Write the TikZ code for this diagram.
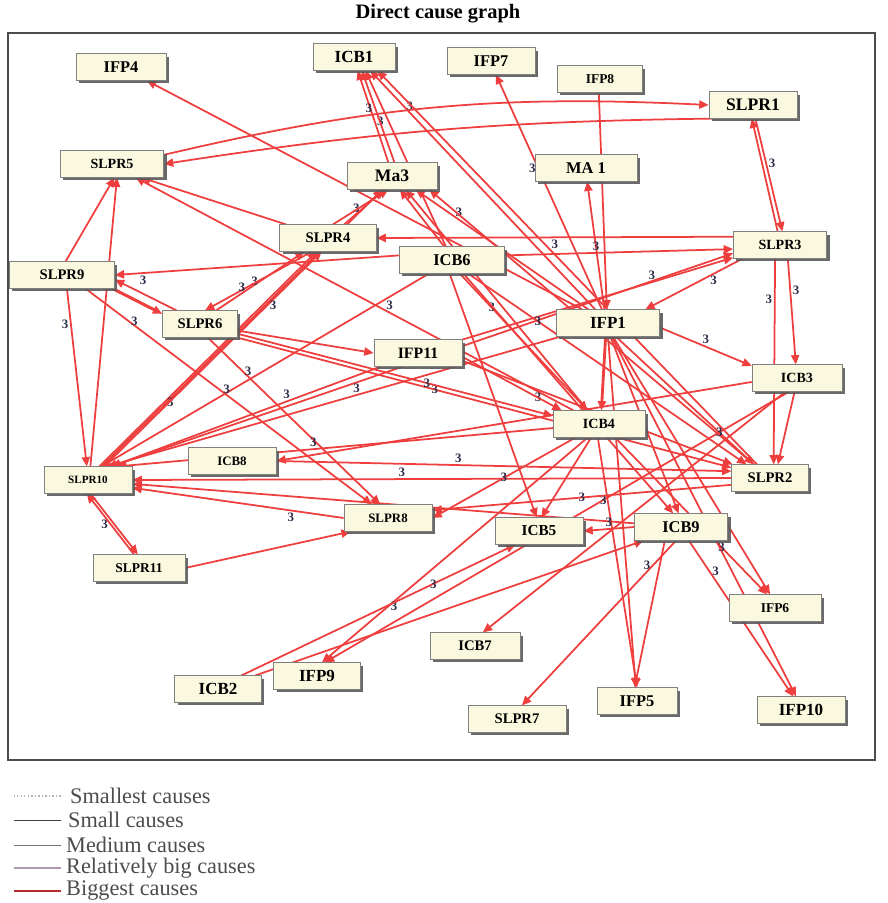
\documentclass[tikz,border=0pt]{standalone}
\usepackage{fontspec}
\setmainfont{Liberation Serif}
\usetikzlibrary{arrows.meta,shadows}

\definecolor{causered}{RGB}{238,62,62}
\definecolor{boxfill}{RGB}{250,249,224}
\definecolor{numcol}{RGB}{45,45,75}
\newcommand\boxfont[1]{\bfseries\fontsize{#1}{#1}\selectfont}
\pgfdeclarelayer{edges}
\pgfsetlayers{edges,main}

\tikzset{
  box/.style={draw=black!50, fill=boxfill, font=\boxfont{#1}, minimum width=2.7cm,
    minimum height=0.8cm, inner sep=2pt,
    drop shadow={shadow xshift=2.5pt, shadow yshift=-2.5pt, fill=black!65, opacity=.9}},
  box/.default=12.5,
  cause/.style={draw=causered, line width=1.5pt, -{Triangle[length=8pt,width=7pt]}},
  lbl/.style={font=\bfseries\fontsize{11}{11}\selectfont, text=numcol, inner sep=1.5pt},
  legend/.style={anchor=west, inner sep=0pt, text=black!70, font=\fontsize{19}{19}\selectfont}
}

\begin{document}
\begin{tikzpicture}[x=0.03cm, y=-0.03cm]
\useasboundingbox (0,0) rectangle (887,903);

\node[font=\bfseries\fontsize{17.5}{17.5}\selectfont] (title) at (438,14) {Direct cause graph};
\draw[black!70, line width=1.3pt] (8,33) rectangle (875,760);

\node[box=14] (IFP4) at (121,67) {IFP4};
\node[box=14.5, minimum width=2.45cm] (ICB1) at (354,57) {ICB1};
\node[box=14, minimum width=2.65cm] (IFP7) at (491,61) {IFP7};
\node[box=11.5, minimum width=2.55cm] (IFP8) at (600,79) {IFP8};
\node[box=15, minimum width=2.65cm] (SLPR1) at (753,105) {SLPR1};
\node[box=12, minimum width=3.1cm] (SLPR5) at (112,164) {SLPR5};
\node[box=15] (Ma3) at (392,176) {Ma3};
\node[box=14, minimum width=3.05cm] (MA1) at (586,168) {MA 1};
\node[box, minimum width=2.9cm] (SLPR4) at (328,238) {SLPR4};
\node[box=14, minimum width=3.15cm] (ICB6) at (452,260) {ICB6};
\node[box=12, minimum width=2.8cm] (SLPR3) at (780,245) {SLPR3};
\node[box, minimum width=3.15cm] (SLPR9) at (62,275) {SLPR9};
\node[box, minimum width=2.25cm] (SLPR6) at (200,324) {SLPR6};
\node[box=14.5, minimum width=3.1cm] (IFP1) at (608,323) {IFP1};
\node[box=13.5, minimum width=2.65cm] (IFP11) at (418,353) {IFP11};
\node[box=12] (ICB3) at (797,378) {ICB3};
\node[box=12, minimum width=2.75cm] (ICB4) at (599,424) {ICB4};
\node[box=11, minimum width=2.65cm] (ICB8) at (232,461) {ICB8};
\node[box=9.5, minimum width=2.65cm] (SLPR10) at (88,480) {SLPR10};
\node[box, minimum width=2.3cm] (SLPR2) at (770,478) {SLPR2};
\node[box=11, minimum width=2.65cm] (SLPR8) at (388,518) {SLPR8};
\node[box=13, minimum width=2.65cm] (ICB5) at (539,531) {ICB5};
\node[box=14, minimum width=2.8cm] (ICB9) at (681,527) {ICB9};
\node[box=11.5, minimum width=2.75cm] (SLPR11) at (139,568) {SLPR11};
\node[box=11.5, minimum width=2.75cm] (IFP6) at (775,608) {IFP6};
\node[box] (ICB7) at (475,646) {ICB7};
\node[box=14.5, minimum width=2.6cm] (IFP9) at (317,676) {IFP9};
\node[box=14.5, minimum width=2.6cm] (ICB2) at (218,689) {ICB2};
\node[box=14, minimum width=2.4cm] (IFP5) at (637,701) {IFP5};
\node[box, minimum width=2.95cm] (SLPR7) at (517,719) {SLPR7};
\node[box=14.5, minimum width=2.65cm] (IFP10) at (801,710) {IFP10};

\begin{pgfonlayer}{edges}
\draw[cause] (IFP1) -- (IFP4);
\draw[cause] (Ma3.105) -- node[lbl,pos=.45,right]{3} (ICB1.285);
\draw[cause] (Ma3.80) -- (ICB1.300);
\draw[cause] (ICB6) -- (ICB1.310);
\draw[cause] (IFP1) -- node[lbl,pos=.85,right]{3} (ICB1.320);
\draw[cause] (SLPR2) -- (ICB1.330);
\draw[cause] (IFP1) -- node[lbl,pos=.6,left]{3} (IFP7.-70);
\draw[cause] (IFP8.-95) -- (IFP1.95);
\draw[cause] (IFP1.105) -- (MA1.-85);
\draw[cause] (SLPR5.10) to[bend left=8] node[lbl,pos=.37,above]{3} (SLPR1.west);
\draw[cause] (SLPR1.200) to[bend right=4] (SLPR5.east);
\draw[cause] (SLPR3.100) -- (SLPR1.-95);
\draw[cause] (SLPR1.-80) -- node[lbl,pos=.4,right]{3} (SLPR3.80);
\draw[cause] (SLPR4.40) -- node[lbl,pos=.45,left]{3} (Ma3.-120);
\draw[cause] (SLPR4.70) -- (Ma3.-105);
\draw[cause] (SLPR10) -- (Ma3.-125);
\draw[cause] (ICB6.120) -- (Ma3.-60);
\draw[cause] (ICB4) -- (Ma3.-45);
\draw[cause] (IFP1) -- node[lbl,pos=.75,above]{3} (Ma3.-30);
\draw[cause] (SLPR2) -- (Ma3.-20);
\draw[cause] (SLPR3.170) -- node[lbl,pos=.5,below]{3} (SLPR4.east);
\draw[cause] (ICB6.5) -- node[lbl,pos=.4,above]{3} (SLPR3.185);
\draw[cause] (ICB6.175) -- node[lbl,pos=.9,below]{3} (SLPR9.east);
\draw[cause] (SLPR4) -- (SLPR5.-25);
\draw[cause] (ICB4) -- node[lbl,pos=.42,above]{3} (SLPR5.-30);
\draw[cause] (SLPR9.75) -- (SLPR5.-80);
\draw[cause] (SLPR10.80) -- (SLPR5.-70);
\draw[cause] (SLPR3.200) -- node[lbl,pos=.3,below]{3} (IFP1.20);
\draw[cause] (IFP11) -- node[lbl,pos=.7,above]{3} (SLPR3.195);
\draw[cause] (SLPR10.30) -- (SLPR3.190);
\draw[cause] (SLPR3.-110) -- node[lbl,pos=.2,left]{3} (SLPR2.75);
\draw[cause] (SLPR3.-60) -- node[lbl,pos=.3,right]{3} (ICB3.95);
\draw[cause] (IFP1.-5) -- node[lbl,pos=.5,above]{3} (ICB3.165);
\draw[cause] (ICB3.-100) -- (SLPR2.60);
\draw[cause] (ICB3.185) -- (ICB8.east);
\draw[cause] (ICB3.-120) -- node[lbl,pos=.4]{3} (IFP9.60);
\draw[cause] (ICB3.-130) -- (ICB7.60);
\draw[cause, line width=2.6pt] (SLPR9.-15) -- (SLPR6.165);
\draw[cause] (SLPR6.150) -- (SLPR9.-5);
\draw[cause] (SLPR6.40) -- node[lbl,pos=.5,left]{3} (SLPR4.-150);
\draw[cause] (SLPR4.-140) -- node[lbl,pos=.6,left]{3} (SLPR6.70);
\draw[cause] (SLPR10.50) -- node[lbl,pos=.3,right]{3} (SLPR4.-130);
\draw[cause] (SLPR10.40) -- node[lbl,pos=.75,right]{3} (SLPR4.-115);
\draw[cause] (SLPR9.-70) -- node[lbl,pos=.2,left]{3} (SLPR10.95);
\draw[cause] (SLPR9.-30) -- node[lbl,pos=.15,right]{3} (SLPR8.140);
\draw[cause] (SLPR6.-60) -- node[lbl,pos=.2,right]{3} (SLPR8.120);
\draw[cause] (SLPR6.-10) -- (IFP11.west);
\draw[cause] (SLPR6.-20) -- node[lbl,pos=.4]{3} (SLPR2.165);
\draw[cause] (IFP11.200) -- node[lbl,pos=.35,above]{3} (SLPR10.30);
\draw[cause] (ICB4) -- node[lbl,pos=.55,above]{3} (SLPR10.25);
\draw[cause] (IFP1) -- node[lbl,pos=.45,above]{3} (SLPR10.35);
\draw[cause] (ICB6) -- node[lbl,pos=.6,left]{3} (SLPR10.45);
\draw[cause] (SLPR2.180) -- node[lbl,pos=.55,above]{3} (SLPR10.east);
\draw[cause] (SLPR8.west) -- node[lbl,pos=.25,below]{3} (SLPR10.-10);
\draw[cause] (ICB9) -- (SLPR10.-5);
\draw[cause] (SLPR10.-80) -- (SLPR11.95);
\draw[cause] (SLPR11.110) -- node[lbl,pos=.5,left]{3} (SLPR10.-95);
\draw[cause] (SLPR11.east) -- (SLPR8.200);
\draw[cause] (ICB6.-60) -- node[lbl,pos=.25]{3} (ICB4.130);
\draw[cause] (ICB6.-40) -- node[lbl,pos=.25]{3} (SLPR2.150);
\draw[cause] (ICB6.-50) -- (ICB9.120);
\draw[cause] (ICB6.-100) -- (ICB5.100);
\draw[cause, line width=2.4pt] (IFP1.-100) -- (ICB4.80);
\draw[cause] (IFP1.-60) -- node[lbl,pos=.75]{3} (SLPR2.140);
\draw[cause] (IFP1.-80) -- (ICB9.100);
\draw[cause] (IFP1.-70) -- (IFP6.110);
\draw[cause] (IFP1.-75) -- (IFP10.110);
\draw[cause] (IFP1.-90) -- (IFP5.95);
\draw[cause] (ICB4.-95) -- (IFP5.90);
\draw[cause] (ICB4.-40) -- node[lbl,pos=.7]{3} (IFP6.120);
\draw[cause] (ICB4.-120) -- (ICB5.80);
\draw[cause] (ICB4.-150) -- node[lbl,pos=.5]{3} (SLPR8.east);
\draw[cause] (ICB4.-130) -- node[lbl,pos=.75,right]{3} (IFP9.70);
\draw[cause] (SLPR2.190) -- node[lbl,pos=.5]{3} (SLPR8.10);
\draw[cause] (ICB9.180) -- node[lbl,pos=.5,above]{3} (ICB5.east);
\draw[cause] (ICB9.-110) -- node[lbl,pos=.15,left]{3} (SLPR7.70);
\draw[cause] (ICB9.-140) -- (IFP5.100);
\draw[cause] (ICB9.-60) -- node[lbl,pos=.2,right]{3} (IFP10.120);
\draw[cause] (ICB2.30) -- node[lbl,pos=.7]{3} (ICB5.-150);
\draw[cause] (ICB2.20) -- (ICB9.200);
\draw[cause] (ICB8.east) -- node[lbl,pos=.4,above]{3} (SLPR2.170);
\draw[cause] (IFP11.-10) -- node[lbl,pos=.28,below]{3} (SLPR2.160);
\draw[cause] (IFP11.-5) -- (ICB4.160);
\draw[cause] (SLPR6) -- node[lbl,pos=.6]{3} (ICB4.170);
\end{pgfonlayer}

\node[legend] (leg1) at (70,796) {Smallest causes};
\node[legend] (leg2) at (68,820) {Small causes};
\node[legend] (leg3) at (66,845) {Medium causes};
\node[legend] (leg4) at (66,868) {Relatively big causes};
\node[legend] (leg5) at (66,891) {Biggest causes};
\draw[black!30, dotted, line width=1pt] ([xshift=-8pt]leg1.west) -- ++(-48,0);
\draw[black!75, line width=.8pt] ([xshift=-6pt]leg2.west) -- ++(-47,0);
\draw[black!55, line width=.8pt] ([xshift=-4pt]leg3.west) -- ++(-47,0);
\draw[black!55!violet!40, line width=.9pt] ([xshift=-4pt]leg4.west) -- ++(-47,0);
\draw[causered!75!black, line width=1.1pt] ([xshift=-4pt]leg5.west) -- ++(-47,0);

\end{tikzpicture}
\end{document}
